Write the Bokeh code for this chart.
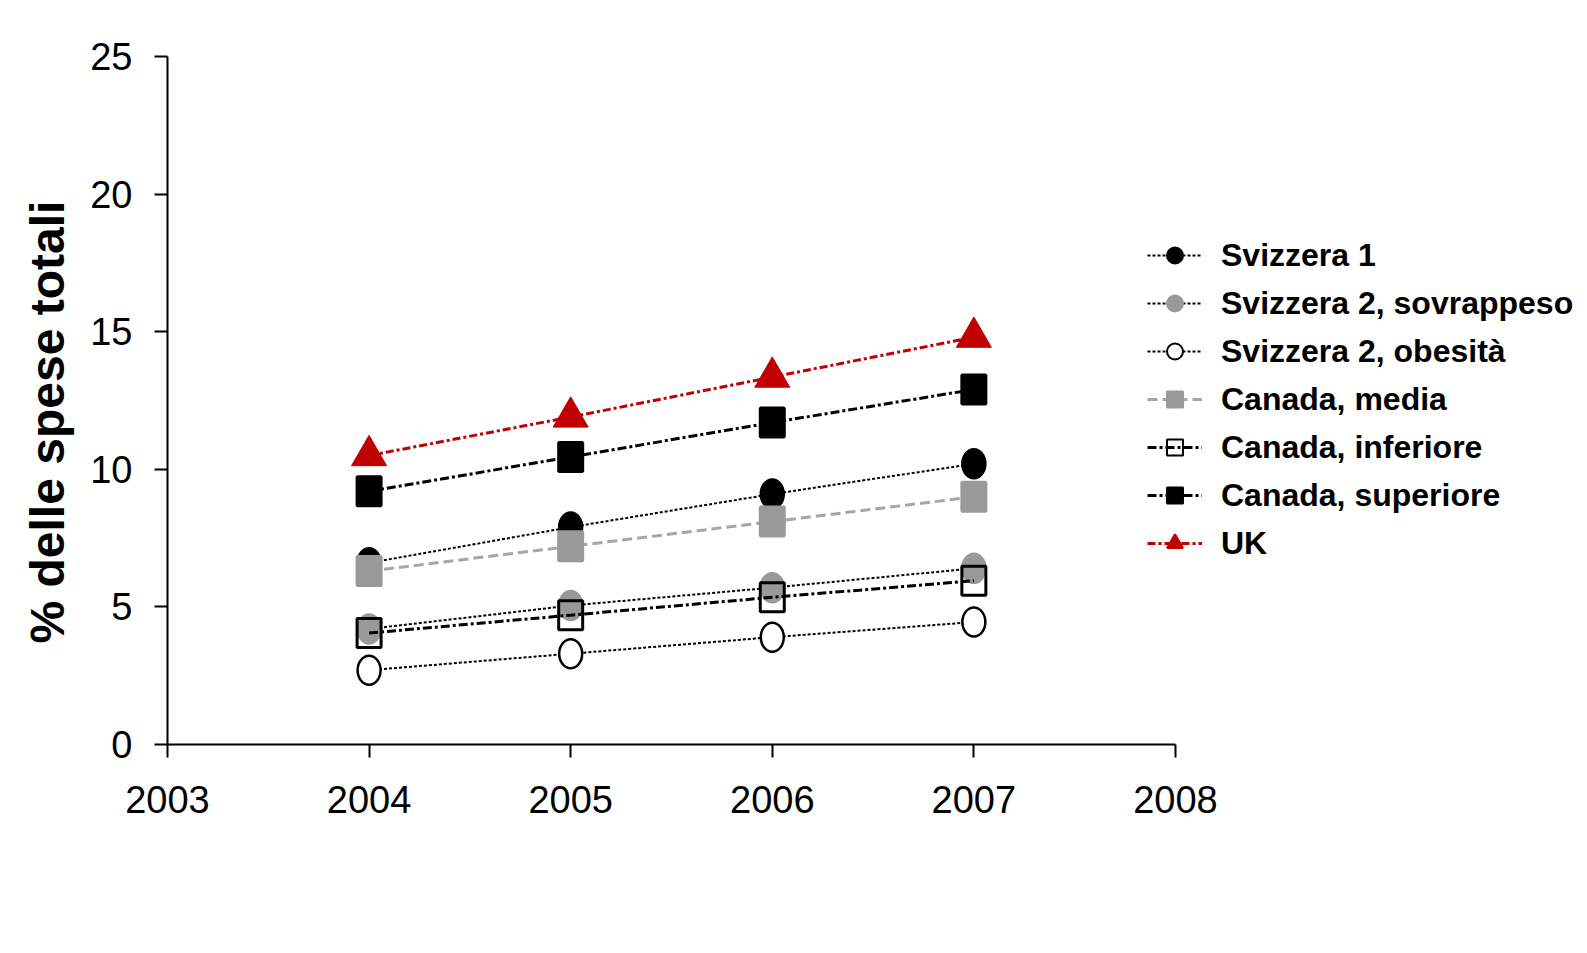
from bokeh.plotting import figure
from bokeh.models import FixedTicker, Legend, LegendItem, ColumnDataSource, Title
from bokeh.embed import file_html
from bokeh.resources import INLINE

# ---- data ----
years = [2004, 2005, 2006, 2007]
svizzera1 = [6.6, 7.9, 9.1, 10.2]
svizzera2_sovrappeso = [4.2, 5.05, 5.7, 6.4]
svizzera2_obesita = [2.7, 3.3, 3.9, 4.45]
canada_media = [6.3, 7.2, 8.1, 9.0]
canada_inferiore = [4.05, 4.7, 5.35, 5.95]
canada_superiore = [9.2, 10.45, 11.7, 12.9]
uk = [10.5, 11.9, 13.35, 14.8]

x_ticks = [2003, 2004, 2005, 2006, 2007, 2008]
y_ticks = [0, 5, 10, 15, 20, 25]
labels = ["Svizzera 1", "Svizzera 2, sovrappeso", "Svizzera 2, obesità",
          "Canada, media", "Canada, inferiore", "Canada, superiore", "UK"]
y_title = "% delle spese totali"

FONT = "Liberation Sans"
GRAY = "#999999"
LGRAY = "#a6a6a6"
RED = "#c00000"

p = figure(width=1587, height=953, x_range=(2003, 2010.044), y_range=(0, 25),
           output_backend="svg", toolbar_location=None,
           min_border_left=167, min_border_top=56, min_border_bottom=209,
           min_border_right=0)
p.outline_line_color = None
p.xgrid.visible = False
p.ygrid.visible = False
p.background_fill_color = "white"
p.border_fill_color = "white"

for ax in (p.xaxis[0], p.yaxis[0]):
    ax.axis_line_width = 2
    ax.axis_line_color = "black"
    ax.major_tick_line_width = 2
    ax.major_tick_line_color = "black"
    ax.major_tick_out = 13
    ax.major_tick_in = 0
    ax.minor_tick_line_color = None
    ax.major_label_text_font = FONT
    ax.major_label_text_font_size = "38px"
    ax.major_label_text_color = "black"

p.xaxis.ticker = FixedTicker(ticks=x_ticks)
p.yaxis.ticker = FixedTicker(ticks=y_ticks)
p.xaxis.bounds = (2003, 2008)
p.yaxis.bounds = (0, 25)
p.xaxis.major_label_standoff = 28
p.yaxis.major_label_standoff = 22

# y-axis title, as a vertical title in the left panel (sits a bit below centre)
p.add_layout(Title(text=y_title, align="left", offset=101, vertical_align="bottom",
                   standoff=28, text_font=FONT, text_font_style="bold",
                   text_font_size="48px", text_color="black"), "left")

series = [
    (svizzera1, "black", 2, "3 2", "circle", "black", "black"),
    (svizzera2_sovrappeso, "black", 2, "3 2", "circle", GRAY, GRAY),
    (svizzera2_obesita, "black", 2, "3 2", "circle", "white", "black"),
    (canada_media, LGRAY, 3, "10 5", "square", GRAY, GRAY),
    (canada_inferiore, "black", 3, "9 3 3 3", "square", None, "black"),
    (canada_superiore, "black", 3, "9 3 3 3", "square", "black", "black"),
    (uk, RED, 3, "8 3 3 3", "triangle", RED, RED),
]

items = []
for lab, (vals, lc, lw, dash, mk, fc, mlc) in zip(labels, series):
    src = ColumnDataSource(dict(x=years, y=vals))
    lr = p.line("x", "y", source=src, line_color=lc, line_width=lw, line_dash=dash)
    if mk == "circle":
        p.ellipse("x", "y", source=src, width=23, height=29, width_units="screen",
                  height_units="screen", fill_color=fc, line_color=mlc, line_width=2.5)
    elif mk == "square":
        p.rect("x", "y", source=src, width=24, height=29, width_units="screen",
               height_units="screen", fill_color=fc, line_color=mlc, line_width=3)
    else:
        p.scatter("x", "y", source=src, marker="triangle", size=35,
                  fill_color=fc, line_color=mlc, line_width=1)
    legr = p.scatter("x", "y", source=src, marker=mk, size=16,
                     fill_color=fc, line_color=mlc, line_width=2, visible=False)
    items.append(LegendItem(label=lab, renderers=[lr, legr]))

legend = Legend(items=items, location=(980, 181), orientation="vertical",
                label_text_font=FONT, label_text_font_style="bold",
                label_text_font_size="32px", label_text_color="black",
                glyph_width=55, glyph_height=40, label_height=40,
                label_standoff=19, spacing=8, padding=0, margin=0,
                border_line_color=None, background_fill_alpha=0)
p.add_layout(legend)

open("out.html", "w").write(file_html(p, INLINE))
